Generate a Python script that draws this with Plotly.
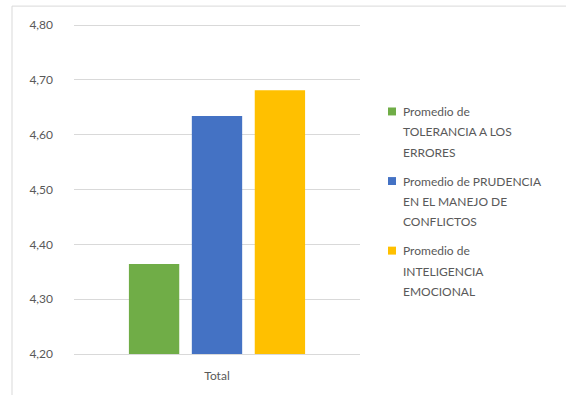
import plotly.graph_objects as go

# Chart data
categories = ["Total"]
series_names = [
    "Promedio de TOLERANCIA A LOS ERRORES",
    "Promedio de PRUDENCIA EN EL MANEJO DE CONFLICTOS",
    "Promedio de INTELIGENCIA EMOCIONAL",
]
legend_lines = [
    ["Promedio de", "TOLERANCIA A LOS", "ERRORES"],
    ["Promedio de PRUDENCIA", "EN EL MANEJO DE", "CONFLICTOS"],
    ["Promedio de", "INTELIGENCIA", "EMOCIONAL"],
]
values = [4.364, 4.634, 4.681]
colors = ["#70AD47", "#4472C4", "#FFC000"]
y_ticks = [4.20, 4.30, 4.40, 4.50, 4.60, 4.70, 4.80]

W, H = 566, 395
M_L, M_R, M_T, M_B = 74, 206, 24, 39
PW, PH = W - M_L - M_R, H - M_T - M_B
FONT = "Lato, 'Liberation Sans', sans-serif"
TXT = "#595959"


def px_x(x):
    return (x - M_L) / PW


def px_y(y):
    return (H - M_B - y) / PH


fig = go.Figure()
for name, val, col in zip(series_names, values, colors):
    fig.add_trace(go.Bar(
        x=categories, y=[val], name=name,
        marker=dict(color=col, line=dict(width=0)),
        showlegend=False,
    ))

shapes = [
    # chart frame (left and top edges)
    dict(type="line", xref="paper", yref="paper",
         x0=px_x(12), x1=px_x(12), y0=px_y(6), y1=px_y(H + 5),
         line=dict(color="#D9D9D9", width=1)),
    dict(type="line", xref="paper", yref="paper",
         x0=px_x(12), x1=px_x(W + 5), y0=px_y(6), y1=px_y(6),
         line=dict(color="#D9D9D9", width=1)),
]
annotations = []

# legend entries: square marker plus three lines of text each
first_line_y = [112, 182, 252]
for lines, col, y0 in zip(legend_lines, colors, first_line_y):
    shapes.append(dict(type="rect", xref="paper", yref="paper",
                       x0=px_x(388), x1=px_x(396),
                       y0=px_y(y0 - 4), y1=px_y(y0 + 4),
                       fillcolor=col, line=dict(width=0)))
    for i, t in enumerate(lines):
        annotations.append(dict(
            text=t, xref="paper", yref="paper",
            x=px_x(401), y=px_y(y0 + i * 20.5),
            xanchor="left", yanchor="middle", showarrow=False,
            font=dict(family=FONT, size=12, color=TXT),
        ))

fig.update_layout(
    width=W, height=H,
    margin=dict(l=M_L, r=M_R, t=M_T, b=M_B),
    paper_bgcolor="white", plot_bgcolor="white",
    barmode="group", bargap=0.34, bargroupgap=0.2,
    separators=",.",
    font=dict(family=FONT, size=12, color=TXT),
    shapes=shapes, annotations=annotations,
    showlegend=False,
)
fig.update_xaxes(
    showline=True, linecolor="#D9D9D9", linewidth=1,
    showgrid=False, ticks="", ticklabelstandoff=11,
    tickfont=dict(family=FONT, size=12, color=TXT),
)
fig.update_yaxes(
    range=[4.2, 4.802], tickvals=y_ticks, tickformat=".2f",
    showgrid=True, gridcolor="#D9D9D9", gridwidth=1,
    zeroline=False, showline=False, ticks="",
    ticklabelstandoff=20,
    tickfont=dict(family=FONT, size=12, color=TXT),
)

fig.write_html("out.html")
